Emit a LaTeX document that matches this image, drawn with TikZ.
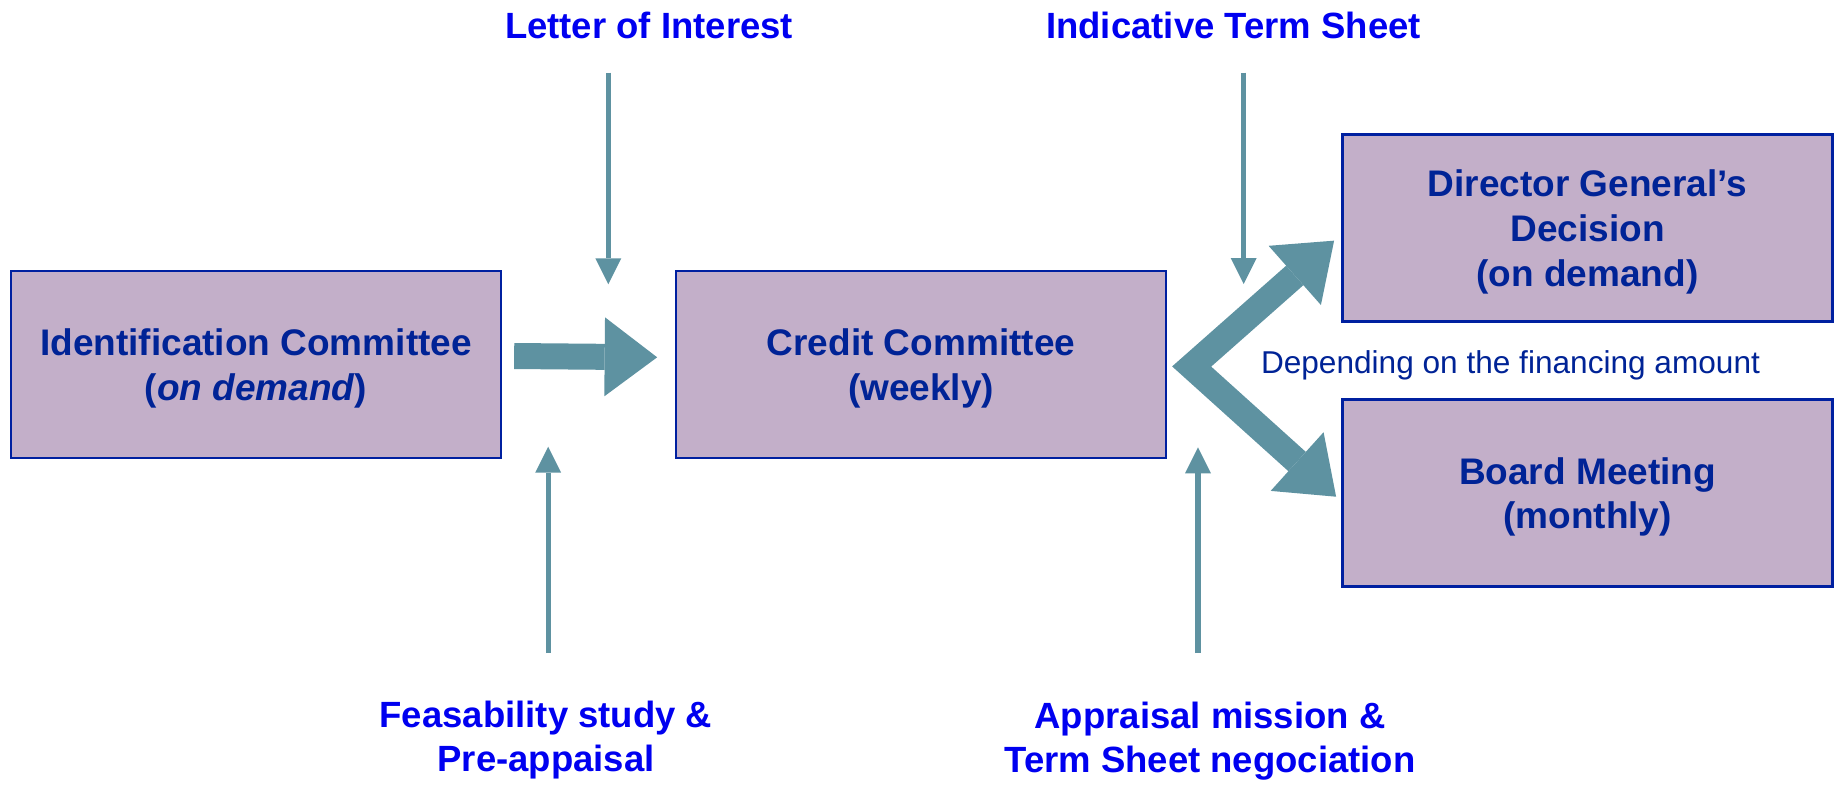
\documentclass[tikz,border=0pt]{standalone}
\usepackage{fontspec}
\setmainfont{Liberation Sans}
\usetikzlibrary{arrows.meta,calc}
\definecolor{boxfill}{RGB}{195,175,201}
\definecolor{boxline}{RGB}{0,32,160}
\definecolor{boxtext}{RGB}{0,35,150}
\definecolor{lblblue}{RGB}{0,0,240}
\definecolor{tealarrow}{RGB}{94,146,161}
\tikzset{
  bigtip/.tip={Triangle[length=52.5pt,width=79pt,line width=0pt]},
  smalltip/.tip={Triangle[length=26pt,width=26pt,line width=0pt]},
}
\begin{document}
\begin{tikzpicture}[x=1pt,y=-1pt,
  stage/.style={draw=boxline, line width=2.3pt, fill=boxfill, minimum width=490pt,
    minimum height=187pt, inner sep=0pt, align=center, text=boxtext,
    font=\fontsize{37}{44.8}\selectfont\bfseries, text depth=-4pt},
  lbl/.style={text=lblblue, align=center, inner sep=0pt,
    font=\fontsize{36.5}{43.5}\selectfont\bfseries},
  thinarrow/.style={draw=tealarrow, line width=5.3pt, -smalltip},
  bigline/.style={draw=tealarrow, line width=26pt, line join=miter},
]
\useasboundingbox (0,0) rectangle (1835,785);

% stages
\node[stage] (ident) at (256,364.5) {Identification Committee\\(\textit{on demand})};
\node[stage] (credit) at (921,364.5) {Credit Committee\\(weekly)};
\node[stage] (dg) at (1587.5,228) {Director General’s\\Decision\\(on demand)};
\node[stage] (board) at (1587.5,493) {Board Meeting\\(monthly)};

% labels
\node[lbl, anchor=base] (loi) at (649,38.3) {Letter of Interest};
\node[lbl, anchor=base] (its) at (1233.5,38.3) {Indicative Term Sheet};
\node[lbl, anchor=north] (feas) at (546,701) {Feasability study \&\\Pre-appaisal};
\node[lbl, anchor=north] (appr) at (1210,702) {Appraisal mission \&\\Term Sheet negociation};
\node[text=boxtext, anchor=base, inner sep=0pt, font=\fontsize{31.6}{37}\selectfont]
  (dep) at (1510.5,373.3) {Depending on the financing amount};

% thin arrow end points
\coordinate (loiA) at (608.3,72.6);
\coordinate (loiB) at (608.3,284.3);
\coordinate (itsA) at (1243.7,72.6);
\coordinate (itsB) at (1243.7,284);
\coordinate (feasA) at (548.2,653);
\coordinate (feasB) at (548.2,446.7);
\coordinate (apprA) at (1198,653);
\coordinate (apprB) at (1198,447.3);

\draw[thinarrow] (loiA) -- (loiB);
\draw[thinarrow] (itsA) -- (itsB);
\draw[thinarrow] (feasA) -- (feasB);
\draw[thinarrow] (apprA) -- (apprB);

% block arrows
\draw[bigline,-bigtip] ($(ident.east)+(12,-8.5)$) -- ($(credit.west)+(-17.7,-7.2)$);
\draw[bigline,bigtip-bigtip] ($(dg.south west)+(-7.25,-82)$) -- ($(credit.east)+(24.5,2)$) -- ($(board.west)+(-5.25,3.7)$);
\end{tikzpicture}
\end{document}
